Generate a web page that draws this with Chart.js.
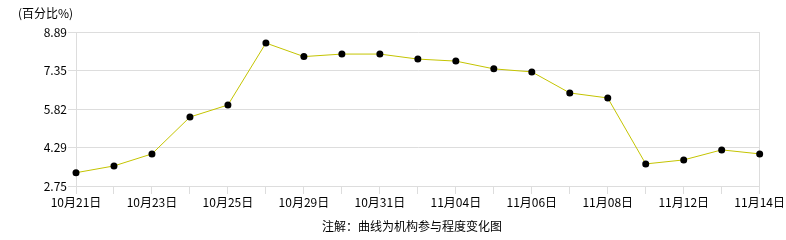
<!DOCTYPE html>
<html>
<head>
<meta charset="utf-8">
<script src="https://cdn.jsdelivr.net/npm/chart.js@4"></script>
<style>html,body{margin:0;padding:0;background:#fff}</style>
</head>
<body>
<canvas id="mycanvas" width="786" height="240"></canvas>
<script>
var dates = ['10月21日','10月22日','10月23日','10月24日','10月25日','10月28日','10月29日','10月30日','10月31日','11月01日',
             '11月04日','11月05日','11月06日','11月07日','11月08日','11月11日','11月12日','11月13日','11月14日'];
var participation = [3.28, 3.55, 4.03, 5.50, 5.98, 8.45, 7.91, 8.01, 8.01, 7.81,
                     7.73, 7.42, 7.30, 6.46, 6.26, 3.63, 3.79, 4.19, 4.03];
var yTicks = [2.75, 4.29, 5.82, 7.35, 8.89];
var yUnit = '(百分比%)';
var note = '注解：曲线为机构参与程度变化图';

var fontFamily = "SimSun, 'Noto Sans CJK SC', sans-serif";
Chart.defaults.color = '#000';
Chart.defaults.font.family = fontFamily;
Chart.defaults.font.size = 12;

// unit label at top left and note under the axis
var textPlugin = {
  id: 'texts',
  afterDraw: function(chart){
    var c = chart.ctx;
    c.save();
    c.fillStyle = '#000';
    c.font = '12px ' + fontFamily;
    c.textBaseline = 'middle';
    c.textAlign = 'left';
    c.fillText(yUnit, 18, 13);
    c.textAlign = 'center';
    c.fillText(note, 412, 226);
    c.restore();
  }
};

var ctx = document.getElementById('mycanvas');
var LineGraph = new Chart(ctx, {
  type: 'line',
  data: {
    labels: dates,
    datasets: [{
      label: '机构参与程度',
      data: participation,
      borderColor: '#c4c400',
      borderWidth: 1,
      tension: 0,
      fill: false,
      pointRadius: 3.5,
      pointBackgroundColor: '#000',
      pointBorderColor: '#000',
      pointBorderWidth: 0
    }]
  },
  options: {
    responsive: false,
    animation: false,
    devicePixelRatio: 1,
    layout: { padding: { top: 32, right: 25, left: 0, bottom: 0 } },
    plugins: { legend: { display: false }, tooltip: { enabled: false } },
    scales: {
      x: {
        afterFit: function(scale){ scale.height = 54; },
        grid: {
          color: function(c){ return c.index === dates.length - 1 ? '#dddddd' : 'rgba(0,0,0,0)'; },
          tickColor: '#dddddd',
          tickLength: 8
        },
        border: { color: '#dddddd' },
        ticks: {
          autoSkip: false,
          maxRotation: 0,
          padding: 1,
          callback: function(v, i){ return i % 2 === 0 ? dates[i] : ''; }
        }
      },
      y: {
        min: 2.75,
        max: 8.89,
        afterFit: function(scale){ scale.width = 76; },
        afterBuildTicks: function(scale){ scale.ticks = yTicks.map(function(v){ return { value: v }; }); },
        grid: { color: '#dddddd', tickLength: 8 },
        border: { color: '#dddddd' },
        ticks: {
          padding: 1,
          callback: function(v){ return v.toFixed(2); }
        }
      }
    }
  },
  plugins: [textPlugin]
});
</script>
</body>
</html>
